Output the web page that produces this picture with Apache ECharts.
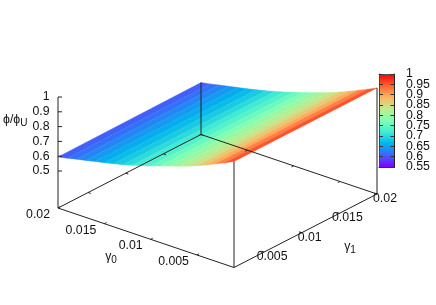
<!DOCTYPE html>
<html>
<head>
<meta charset="utf-8">
<style>html,body{margin:0;padding:0;background:#fff}#c{width:436px;height:305px}</style>
<script src="https://cdn.jsdelivr.net/npm/echarts@6/dist/echarts.min.js"></script>
</head>
<body>
<div id="c"></div>
<script>
// ---- data ----
const gamma0 = [0.02,0.019,0.018,0.017,0.016,0.015,0.014,0.013,0.012,0.011,0.01,0.009,0.008,0.007,0.006,0.005,0.004,0.003,0.002,0.001];
const phiAtGamma1Low  = [0.595,0.608,0.622,0.635,0.649,0.662,0.676,0.691,0.708,0.726,0.745,0.766,0.787,0.808,0.829,0.853,0.879,0.908,0.936,0.966];
const phiAtGamma1High = [0.601,0.613,0.626,0.639,0.652,0.665,0.679,0.694,0.710,0.728,0.747,0.767,0.788,0.809,0.830,0.854,0.880,0.909,0.937,0.967];
const gamma0Ticks = [0.02,0.015,0.01,0.005];
const gamma0TickLabels = ['0.02','0.015','0.01','0.005'];
const gamma1Ticks = [0.005,0.01,0.015,0.02];
const gamma1TickLabels = ['0.005','0.01','0.015','0.02'];
const phiTicks = [0.5,0.6,0.7,0.8,0.9,1];
const phiTickLabels = ['0.5','0.6','0.7','0.8','0.9','1'];
const colorbarTicks = [0.55,0.6,0.65,0.7,0.75,0.8,0.85,0.9,0.95,1];
const colorbarTickLabels = ['0.55','0.6','0.65','0.7','0.75','0.8','0.85','0.9','0.95','1'];
const palette = ['#8000ff','#4062fa','#00b4ec','#40ecd4','#80ffb4','#bfec8e','#ffb462','#ff6232','#ff0000'];

// ---- view projection ----
const G_MIN=0.001, G_MAX=0.02, Z_BASE=0.25;
const ORIGIN=[58,208], U=[176,59.5], V=[143,-73.5], Z_SCALE=148;
const FONT='"Liberation Sans", Arial, sans-serif';
function project(g0,g1,z){
  const u=(G_MAX-g0)/(G_MAX-G_MIN), v=(g1-G_MIN)/(G_MAX-G_MIN);
  return [ORIGIN[0]+u*U[0]+v*V[0], ORIGIN[1]+u*U[1]+v*V[1]-(z-Z_BASE)*Z_SCALE];
}

// surface bands: one band between successive gamma0 samples
const bands=[];
for(let i=0;i<gamma0.length-1;i++){
  const m=(phiAtGamma1Low[i]+phiAtGamma1Low[i+1]+phiAtGamma1High[i]+phiAtGamma1High[i+1])/4;
  bands.push([gamma0[i],gamma0[i+1],phiAtGamma1Low[i],phiAtGamma1Low[i+1],phiAtGamma1High[i],phiAtGamma1High[i+1],m]);
}

// axes frame
const segs=[];
function seg(a,b){segs.push([a[0],a[1],b[0],b[1]]);}
const last=gamma0.length-1;
seg(project(G_MAX,G_MIN,Z_BASE),project(G_MIN,G_MIN,Z_BASE));
seg(project(G_MIN,G_MIN,Z_BASE),project(G_MIN,G_MAX,Z_BASE));
seg(project(G_MIN,G_MAX,Z_BASE),project(G_MAX,G_MAX,Z_BASE));
seg(project(G_MAX,G_MAX,Z_BASE),project(G_MAX,G_MIN,Z_BASE));
seg(project(G_MAX,G_MIN,Z_BASE),project(G_MAX,G_MIN,1));
seg(project(G_MIN,G_MIN,Z_BASE),project(G_MIN,G_MIN,phiAtGamma1Low[last]));
seg(project(G_MIN,G_MAX,Z_BASE),project(G_MIN,G_MAX,phiAtGamma1High[last]));
seg(project(G_MAX,G_MAX,Z_BASE),project(G_MAX,G_MAX,phiAtGamma1High[0]));
const TICK=0.00028;
gamma0Ticks.forEach(g=>{
  seg(project(g,G_MIN,Z_BASE),project(g,G_MIN+TICK,Z_BASE));
  seg(project(g,G_MAX,Z_BASE),project(g,G_MAX-TICK,Z_BASE));
});
gamma1Ticks.forEach(g=>{
  seg(project(G_MAX,g,Z_BASE),project(G_MAX-TICK,g,Z_BASE));
  seg(project(G_MIN,g,Z_BASE),project(G_MIN+TICK,g,Z_BASE));
});
phiTicks.forEach(z=>{
  const p=project(G_MAX,G_MIN,z);
  seg(p,[p[0]+4,p[1]]);
});

// text labels
const texts=[];
gamma0Ticks.forEach((g,i)=>{
  const p=project(g,G_MIN,Z_BASE);
  texts.push([p[0]-8,p[1]+6.5,gamma0TickLabels[i],'right']);
});
gamma1Ticks.forEach((g,i)=>{
  const p=project(G_MIN,g,Z_BASE);
  texts.push([p[0]+8,p[1]+4.7,gamma1TickLabels[i],'center']);
});
phiTicks.forEach((z,i)=>{
  const p=project(G_MAX,G_MIN,z);
  texts.push([p[0]-8.5,p[1],phiTickLabels[i],'right']);
});
texts.push([3,120,'{m|ϕ/ϕ}{s|U}','left']);
texts.push([111,257,'{m|γ}{s|0}','center']);
texts.push([350,247,'{m|γ}{s|1}','center']);

const richStyles={m:{fontFamily:FONT,fontSize:12.3,fill:'#111',color:'#111'},
                  s:{fontFamily:FONT,fontSize:10,fill:'#111',color:'#111',padding:[6,0,0,0]}};

const chart=echarts.init(document.getElementById('c'),null,{renderer:'canvas'});
chart.setOption({
  animation:false,
  backgroundColor:'#fff',
  grid:[
    {left:0,top:0,width:436,height:305},
    {left:379,top:74,width:15.5,height:93}
  ],
  xAxis:[
    {gridIndex:0,type:'value',min:0,max:436,show:false},
    {gridIndex:1,type:'category',data:[''],position:'bottom',z:5,axisLine:{show:true,lineStyle:{color:'#333'}},axisTick:{show:false},axisLabel:{show:false}},
    {gridIndex:1,type:'category',data:[''],position:'top',z:5,axisLine:{show:true,lineStyle:{color:'#555'}},axisTick:{show:false},axisLabel:{show:false}}
  ],
  yAxis:[
    {gridIndex:0,type:'value',min:0,max:305,inverse:true,show:false},
    {gridIndex:1,type:'value',min:0.55,max:1,interval:0.05,position:'left',z:5,splitLine:{show:false},
      axisLine:{show:true,lineStyle:{color:'#444'}},axisTick:{show:true,inside:true,length:4,lineStyle:{color:'#333'}},axisLabel:{show:false}},
    {gridIndex:1,type:'value',min:0.55,max:1,interval:0.05,position:'right',z:5,splitLine:{show:false},
      axisLine:{show:true,lineStyle:{color:'#222'}},axisTick:{show:true,inside:true,length:4,lineStyle:{color:'#333'}},axisLabel:{show:false}}
  ],
  visualMap:{show:false,seriesIndex:0,dimension:6,min:0.55,max:1,inRange:{color:palette}},
  series:[
    {type:'custom',name:'surface',xAxisIndex:0,yAxisIndex:0,clip:false,z:2,data:bands,
      renderItem(params,api){
        const g0a=api.value(0),g0b=api.value(1);
        const pts=[
          project(g0a,G_MIN,api.value(2)),project(g0b,G_MIN,api.value(3)),
          project(g0b,G_MAX,api.value(5)),project(g0a,G_MAX,api.value(4))
        ].map(p=>api.coord(p));
        const c=api.visual('color');
        return {type:'polygon',shape:{points:pts},style:{fill:c,stroke:c,lineWidth:0.4}};
      }},
    {type:'custom',name:'frame',xAxisIndex:0,yAxisIndex:0,clip:false,z:3,silent:true,data:segs,
      renderItem(params,api){
        const a=api.coord([api.value(0),api.value(1)]),b=api.coord([api.value(2),api.value(3)]);
        return {type:'line',shape:{x1:a[0],y1:a[1],x2:b[0],y2:b[1]},style:{stroke:'#222',lineWidth:1}};
      }},
    {type:'custom',name:'labels',xAxisIndex:0,yAxisIndex:0,clip:false,z:4,silent:true,
      encode:{x:0,y:1},data:texts.map(t=>[t[0],t[1]]),
      renderItem(params,api){
        const t=texts[params.dataIndex];
        const p=api.coord([t[0],t[1]]);
        return {type:'text',x:p[0],y:p[1],style:{text:t[2],align:t[3],verticalAlign:'middle',
          fill:'#111',font:'12.3px '+FONT,rich:richStyles}};
      }},
    {type:'bar',name:'colorbar',xAxisIndex:1,yAxisIndex:2,barWidth:'100%',z:2,silent:true,data:[1],
      itemStyle:{color:new echarts.graphic.LinearGradient(0,1,0,0,palette.map((c,i)=>({offset:i/(palette.length-1),color:c})))}},
    {type:'custom',name:'colorbarLabels',xAxisIndex:1,yAxisIndex:2,clip:false,z:6,silent:true,
      data:colorbarTicks.map(v=>[0,v]),encode:{x:0,y:1},
      renderItem(params,api){
        const p=api.coord([0,api.value(1)]);
        const size=api.size([1,0]);
        return {type:'text',x:p[0]+size[0]/2+11.5,y:p[1],style:{text:colorbarTickLabels[params.dataIndex],
          align:'left',verticalAlign:'middle',fill:'#111',font:'12.3px '+FONT}};
      }}
  ]
});
</script>
</body>
</html>
